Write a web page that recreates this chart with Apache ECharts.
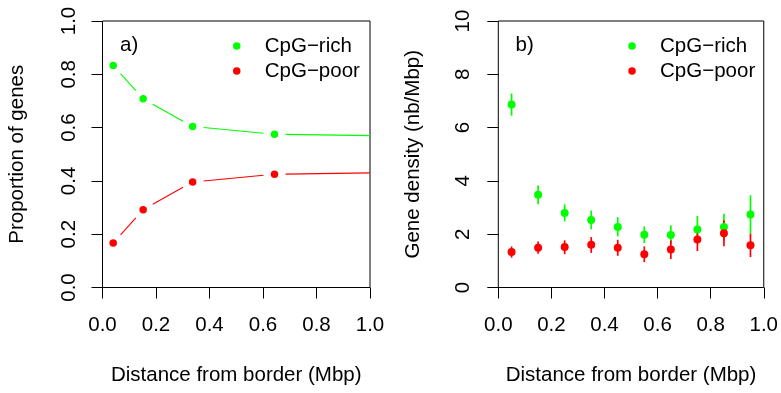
<!DOCTYPE html>
<html><head><meta charset="utf-8">
<script src="https://cdn.jsdelivr.net/npm/echarts@6/dist/echarts.min.js"></script>
<style>html,body{margin:0;padding:0;background:#fff}#c{width:781px;height:393px}</style>
</head><body><div id="c"></div><script>
// ---- Panel a) proportion of genes ----
const distA = [0.040, 0.152, 0.337, 0.643];
const richA = [0.833, 0.708, 0.604, 0.575];
const poorA = [0.167, 0.292, 0.396, 0.425];
// lines continue to the right edge of the panel
const lineEndX = 1.0;
const richAEnd = 0.570;
const poorAEnd = 0.430;

// ---- Panel b) gene density ----
const distB = [0.05, 0.15, 0.25, 0.35, 0.45, 0.55, 0.65, 0.75, 0.85, 0.95];
const richB     = [6.87, 3.48, 2.80, 2.53, 2.27, 1.98, 1.97, 2.18, 2.27, 2.74];
const richBLow  = [6.45, 3.12, 2.48, 2.18, 1.92, 1.67, 1.64, 1.70, 1.77, 2.02];
const richBHigh = [7.28, 3.83, 3.12, 2.89, 2.64, 2.29, 2.33, 2.68, 2.77, 3.46];
const poorB     = [1.33, 1.49, 1.52, 1.60, 1.49, 1.25, 1.43, 1.80, 2.04, 1.59];
const poorBLow  = [1.12, 1.27, 1.25, 1.30, 1.19, 0.95, 1.07, 1.37, 1.55, 1.14];
const poorBHigh = [1.54, 1.73, 1.77, 1.89, 1.79, 1.54, 1.77, 2.23, 2.52, 2.02];

const xTicksLabel = v => v.toFixed(1);
const seriesNames = ['CpG\u2212rich', 'CpG\u2212poor'];
const GREEN = '#00ff00', RED = '#ff0000';
const FONT = 'Liberation Sans, Arial, Helvetica, sans-serif';
const FS = 20.5;

function segData(xs, ys, endX, endY) {
  const out = [];
  const X = xs.concat([endX]), Y = ys.concat([endY]);
  for (let i = 0; i < X.length - 1; i++) {
    out.push([X[i], Y[i], X[i + 1], Y[i + 1], 1, (i + 1 < xs.length) ? 1 : 0]);
  }
  return out;
}
function gapLine(color) {
  const GAP = 11;
  return function (params, api) {
    const p0 = api.coord([api.value(0), api.value(1)]);
    const p1 = api.coord([api.value(2), api.value(3)]);
    const dx = p1[0] - p0[0], dy = p1[1] - p0[1];
    const L = Math.sqrt(dx * dx + dy * dy);
    const ux = dx / L, uy = dy / L;
    const g0 = api.value(4) ? GAP : 0, g1 = api.value(5) ? GAP : 0;
    return {
      type: 'line',
      shape: { x1: p0[0] + ux * g0, y1: p0[1] + uy * g0, x2: p1[0] - ux * g1, y2: p1[1] - uy * g1 },
      style: { stroke: color, lineWidth: 1.1 }
    };
  };
}
function errBar(color) {
  return function (params, api) {
    const p0 = api.coord([api.value(0), api.value(1)]);
    const p1 = api.coord([api.value(0), api.value(2)]);
    return { type: 'line', shape: { x1: p0[0], y1: p0[1], x2: p1[0], y2: p1[1] },
      style: { stroke: color, lineWidth: 1.7 } };
  };
}
function zip(a, b) { return a.map((v, i) => [v, b[i]]); }
function zip3(a, b, c) { return a.map((v, i) => [v, b[i], c[i]]); }

const axisCommon = {
  type: 'value', splitLine: { show: false },
  axisLine: { show: false },
  axisTick: { show: true, length: 11, lineStyle: { color: '#000', width: 1 } },
  nameLocation: 'middle',
  nameTextStyle: { fontSize: FS, color: '#000', fontFamily: FONT }
};
function xAx(gi) {
  return Object.assign({}, axisCommon, {
    gridIndex: gi, min: 0, max: 1, interval: 0.2,
    axisLabel: { margin: 27, fontSize: FS, color: '#000', fontFamily: FONT, formatter: xTicksLabel },
    name: 'Distance from border (Mbp)', nameGap: 77
  });
}
const gridStyle = { show: true, borderColor: '#000', borderWidth: 1, backgroundColor: 'transparent' };

const option = {
  animation: false,
  backgroundColor: '#fff',
  textStyle: { fontFamily: FONT },
  grid: [
    Object.assign({ left: 102.5, right: 411, top: 21, bottom: 105.5 }, gridStyle),
    Object.assign({ left: 498.3, right: 15.7, top: 21, bottom: 105.5 }, gridStyle)
  ],
  title: [
    { text: 'a)', left: 120, top: 35, padding: 0, textStyle: { fontSize: FS, fontWeight: 'normal', color: '#000', fontFamily: FONT } },
    { text: 'b)', left: 515.5, top: 35, padding: 0, textStyle: { fontSize: FS, fontWeight: 'normal', color: '#000', fontFamily: FONT } }
  ],
  legend: [0, 1].map(i => ({
    orient: 'vertical', left: i === 0 ? 233 : 628.3, top: 35.5, padding: 0,
    itemWidth: 46, itemHeight: 7.5, itemGap: 4, selectedMode: false,
    data: seriesNames.map(n => ({ name: n, icon: 'circle' })),
    textStyle: { fontSize: FS, color: '#000', fontFamily: FONT }
  })),
  xAxis: [xAx(0), xAx(1)],
  yAxis: [
    Object.assign({}, axisCommon, {
      gridIndex: 0, min: 0, max: 1, interval: 0.2,
      axisLabel: { rotate: 90, margin: 23, fontSize: FS, color: '#000', fontFamily: FONT, formatter: v => v.toFixed(1) },
      name: 'Proportion of genes', nameGap: 75
    }),
    Object.assign({}, axisCommon, {
      gridIndex: 1, min: 0, max: 10, interval: 2,
      axisLabel: { rotate: 90, margin: 24, fontSize: FS, color: '#000', fontFamily: FONT, formatter: v => String(v) },
      name: 'Gene density (nb/Mbp)', nameGap: 74.5
    })
  ],
  series: [
    { name: 'richLineA', type: 'custom', xAxisIndex: 0, yAxisIndex: 0, renderItem: gapLine(GREEN),
      encode: { x: [0, 2], y: [1, 3] }, data: segData(distA, richA, lineEndX, richAEnd), silent: true },
    { name: 'poorLineA', type: 'custom', xAxisIndex: 0, yAxisIndex: 0, renderItem: gapLine(RED),
      encode: { x: [0, 2], y: [1, 3] }, data: segData(distA, poorA, lineEndX, poorAEnd), silent: true },
    { name: seriesNames[0], type: 'scatter', xAxisIndex: 0, yAxisIndex: 0, symbolSize: 7.5,
      itemStyle: { color: GREEN, opacity: 1 }, data: zip(distA, richA) },
    { name: seriesNames[1], type: 'scatter', xAxisIndex: 0, yAxisIndex: 0, symbolSize: 7.5,
      itemStyle: { color: RED, opacity: 1 }, data: zip(distA, poorA) },

    { name: 'richErrB', type: 'custom', xAxisIndex: 1, yAxisIndex: 1, renderItem: errBar(GREEN),
      encode: { x: 0, y: [1, 2] }, data: zip3(distB, richBLow, richBHigh), silent: true },
    { name: seriesNames[0], type: 'scatter', xAxisIndex: 1, yAxisIndex: 1, symbolSize: 8,
      itemStyle: { color: GREEN, opacity: 1 }, data: zip(distB, richB) },
    { name: 'poorErrB', type: 'custom', xAxisIndex: 1, yAxisIndex: 1, renderItem: errBar(RED),
      encode: { x: 0, y: [1, 2] }, data: zip3(distB, poorBLow, poorBHigh), silent: true },
    { name: seriesNames[1], type: 'scatter', xAxisIndex: 1, yAxisIndex: 1, symbolSize: 8,
      itemStyle: { color: RED, opacity: 1 }, data: zip(distB, poorB) }
  ]
};
const chart = echarts.init(document.getElementById('c'), null, { renderer: 'canvas' });
chart.setOption(option);
</script></body></html>
